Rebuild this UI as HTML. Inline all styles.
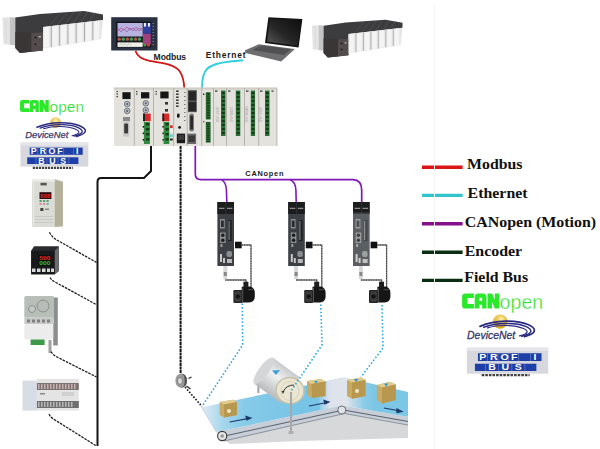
<!DOCTYPE html>
<html><head><meta charset="utf-8">
<style>
html,body{margin:0;padding:0;background:#fff;width:600px;height:449px;overflow:hidden;}
svg{position:absolute;left:0;top:0;display:block;}
text{font-family:"Liberation Sans",sans-serif;}
.serif{font-family:"Liberation Serif",serif;font-weight:bold;}
</style></head><body>
<svg width="600" height="449" viewBox="0 0 600 449">
<defs>
 <linearGradient id="scr" x1="1" y1="0" x2="0" y2="1">
  <stop offset="0" stop-color="#0e0e0e"/><stop offset="0.55" stop-color="#262626"/><stop offset="0.85" stop-color="#4a4a4a"/><stop offset="1" stop-color="#2a2a2a"/>
 </linearGradient>
 <g id="plc">
  <polygon points="-0.6,7.4 6.8,7.2 6.8,34.8 0.4,34" fill="#e4e4e4"/>
  <polygon points="6.8,7.2 12.3,7.4 12.3,35.5 6.8,34.8" fill="#c4c4c4"/>
  <line x1="3" y1="9" x2="3" y2="33" stroke="#d0d0d0" stroke-width="0.6"/>
  <polygon points="12.3,7.6 37,4 81,1 100,4.4 100,10 40,17 40,40.5 17,43 12.3,38" fill="#3c3c3e"/>
  <g stroke="#5a5a5e" stroke-width="0.6">
   <line x1="46" y1="16.3" x2="57" y2="3.5"/><line x1="54" y1="15.3" x2="64" y2="3"/><line x1="62" y1="14.4" x2="71" y2="2.3"/><line x1="70" y1="13.5" x2="78" y2="1.6"/><line x1="78" y1="12.6" x2="85" y2="1.6"/><line x1="86" y1="11.6" x2="92" y2="2.6"/>
  </g>
  <polygon points="28.2,23 40,22.5 40,40.5 28.2,41.8" fill="#544c4c"/>
  <polygon points="12.3,22 28.2,23 28.2,41.8 17,43 12.3,38" fill="#3a3636"/>
  <circle cx="32.5" cy="27.4" r="1.5" fill="#1e1e1e" stroke="#777" stroke-width="0.4"/>
  <circle cx="32.5" cy="34.2" r="1.5" fill="#1e1e1e" stroke="#777" stroke-width="0.4"/>
  <rect x="35.5" y="26" width="2.5" height="1.5" fill="#aaa"/>
  <polygon points="40,17 100,10 98,29 40,38.5" fill="#e6e6e6"/>
  <g stroke="#a8a8a8" stroke-width="0.9">
   <line x1="48.3" y1="16" x2="48.3" y2="37.2"/><line x1="56.6" y1="15" x2="56.6" y2="35.8"/>
   <line x1="64.9" y1="14.1" x2="64.9" y2="34.5"/><line x1="73.2" y1="13.1" x2="73.2" y2="33.1"/>
   <line x1="81.5" y1="12.2" x2="81.5" y2="31.8"/><line x1="89.8" y1="11.2" x2="89.8" y2="30.4"/>
  </g>
  <g fill="#f4f4f4">
   <polygon points="41,17.5 46,17 46,37 41,37.8"/><polygon points="49.5,16.5 54.5,16 54.5,35.6 49.5,36.4"/>
   <polygon points="58,15.5 63,15 63,34.3 58,35"/><polygon points="66.3,14.6 71.3,14 71.3,32.9 66.3,33.7"/>
   <polygon points="74.6,13.6 79.6,13.1 79.6,31.6 74.6,32.4"/><polygon points="82.9,12.7 87.9,12.1 87.9,30.2 82.9,31"/>
   <polygon points="91.2,11.7 96.2,11.1 96.2,28.9 91.2,29.7"/>
  </g>
 </g>
</defs>

<!-- top-left PLC rack -->
<use href="#plc" transform="translate(3,10)"/>
<!-- right PLC rack -->
<use href="#plc" transform="translate(312.5,18.8) scale(0.9)"/>

<!-- HMI -->
<rect x="111.2" y="17.2" width="46.3" height="33.3" fill="#2a3242"/>
<rect x="116" y="21.6" width="35.2" height="25.7" fill="#111418"/>
<rect x="117.5" y="23" width="25.2" height="13.5" fill="#b8b2e0"/>
<polyline points="118,31 121,28 124,30 127,27 130,30 133,28 136,31 139,28 142,30" fill="none" stroke="#c05090" stroke-width="0.8"/>
<polyline points="118,28 121,32 124,29 127,32 130,28 133,31 136,27 139,31 142,28" fill="none" stroke="#8050a0" stroke-width="0.6"/>
<rect x="143" y="23" width="7.8" height="10.8" fill="#3040a0"/>
<rect x="144" y="23" width="1.9" height="3.6" fill="#f4f4f4"/><rect x="148" y="23" width="1.9" height="3.6" fill="#f4f4f4"/>
<rect x="143" y="33.8" width="7.8" height="10.8" fill="#a04080"/>
<rect x="117.5" y="37" width="25.2" height="4.5" fill="#1c2a24"/>
<g><circle cx="119.2" cy="39.2" r="1.6" fill="#c05050"/><circle cx="123.3" cy="39.2" r="1.6" fill="#40a060"/><circle cx="127.4" cy="39.2" r="1.6" fill="#c05050"/><circle cx="131.4" cy="39.2" r="1.6" fill="#40a060"/><circle cx="135.5" cy="39.2" r="1.6" fill="#c05050"/><circle cx="139.5" cy="39.2" r="1.6" fill="#40a060"/></g>
<rect x="117.5" y="42.4" width="25.2" height="4.5" fill="#f0f0e8"/>
<polyline points="119,45.5 121,43.5 123,45.5 125,43.5 127,45.5 129,43.5 131,45.5" fill="none" stroke="#80a080" stroke-width="0.5"/>
<rect x="143.5" y="43.7" width="2.5" height="2.7" fill="#40a050"/><rect x="146.7" y="43.7" width="3.2" height="2.7" fill="#d04030"/>
<g fill="#6a7a80"><rect x="152.5" y="23" width="1.5" height="1"/><rect x="152.5" y="26" width="1.5" height="1"/><rect x="152.5" y="29" width="1.5" height="1"/><rect x="152.5" y="32" width="1.5" height="1"/><rect x="152.5" y="35" width="1.5" height="1"/><rect x="152.5" y="38" width="1.5" height="1"/><rect x="152.5" y="41" width="1.5" height="1"/><rect x="152.5" y="44" width="1.5" height="1"/></g>

<!-- Laptop -->
<polygon points="258.7,44.3 294.9,48.9 281.2,61.4 245.6,53 244.7,50.6" fill="#6e6e70"/>
<polygon points="262,45.5 291,49.3 284,55 252,50" fill="#505052"/>
<polygon points="268.4,17.2 302.4,19 298.6,47.4 265,43" fill="#151515"/>
<polygon points="270,19 300.5,20.6 297.5,45.5 267,41.8" fill="url(#scr)"/>

<!-- Modbus cable -->
<path d="M135.5,51 C137.5,57 142,59 150,61 C163,63 174,64.5 179.5,71 C183,76 184,82 184.3,88" fill="none" stroke="#d01818" stroke-width="1.8"/>
<text x="153.6" y="60.2" font-size="8.6" font-weight="bold" fill="#1a1a1a" textLength="32.5">Modbus</text>
<!-- Ethernet cable -->
<path d="M202,88 C202,80 203,73 207,69 C212,64 220,62.5 230,61.5 L243,60.2" fill="none" stroke="#34cede" stroke-width="1.9"/>
<text x="205.8" y="58.4" font-size="8.4" font-weight="bold" fill="#1a1a1a" textLength="39.8">Ethernet</text>

<!-- Controller -->
<defs>
 <g id="knob"><circle r="2.8" fill="#b8bcc4"/><circle r="2.8" fill="none" stroke="#6a6e78" stroke-width="0.9"/><circle r="1" fill="#555a66"/></g>
 <g id="term">
  <rect x="0" y="0" width="6" height="22" fill="#2f8a40"/>
  <g fill="#1a3a1a"><rect x="2" y="1" width="3.5" height="2.5"/><rect x="2" y="6" width="3.5" height="2.5"/><rect x="2" y="11" width="3.5" height="2.5"/><rect x="2" y="16" width="3.5" height="2.5"/></g>
  <g fill="#111"><rect x="-1.2" y="4" width="1.4" height="1.6"/><rect x="-1.2" y="10.5" width="1.4" height="1.6"/><rect x="-1.2" y="17" width="1.4" height="1.6"/></g>
 </g>
 <g id="strip">
  <rect x="0" y="0" width="4.5" height="45.5" fill="#2c6e34"/>
  <g fill="#163a18"><rect x="0.8" y="1.5" width="3" height="2"/><rect x="0.8" y="5.5" width="3" height="2"/><rect x="0.8" y="9.5" width="3" height="2"/><rect x="0.8" y="13.5" width="3" height="2"/><rect x="0.8" y="17.5" width="3" height="2"/><rect x="0.8" y="21.5" width="3" height="2"/><rect x="0.8" y="25.5" width="3" height="2"/><rect x="0.8" y="29.5" width="3" height="2"/><rect x="0.8" y="33.5" width="3" height="2"/><rect x="0.8" y="37.5" width="3" height="2"/><rect x="0.8" y="41.5" width="3" height="2"/></g>
 </g>
</defs>
<rect x="114" y="88" width="163" height="58" fill="#e4e2dc"/>
<rect x="114" y="87.4" width="163" height="2.2" fill="#cfcdc6"/>
<rect x="276" y="88" width="1.5" height="58" fill="#c8c6c0"/>
<g stroke="#b0aea8" stroke-width="0.9">
 <line x1="134.3" y1="88" x2="134.3" y2="146"/><line x1="153.5" y1="88" x2="153.5" y2="146"/>
 <line x1="173.6" y1="88" x2="173.6" y2="146"/><line x1="187.2" y1="88" x2="187.2" y2="146"/>
 <line x1="201.7" y1="88" x2="201.7" y2="146"/><line x1="213.5" y1="88" x2="213.5" y2="146"/>
 <line x1="226.5" y1="88" x2="226.5" y2="146"/><line x1="244.5" y1="88" x2="244.5" y2="146"/>
 <line x1="258.7" y1="88" x2="258.7" y2="146"/>
</g>
<!-- module 1 -->
<g fill="#444"><rect x="116.5" y="91" width="1.5" height="1.2"/><rect x="116.5" y="93.5" width="1.5" height="1.2"/><rect x="116.5" y="96" width="1.5" height="1.2"/></g>
<rect x="122.4" y="92.2" width="8.2" height="6.9" fill="#161616"/>
<use href="#knob" transform="translate(127.2,104)"/><use href="#knob" transform="translate(127.2,110.9)"/>
<rect x="123" y="117" width="7" height="4.2" fill="#8a8a8a"/>
<rect x="123" y="122" width="6.3" height="14.4" rx="1" fill="#c8c8c8"/>
<rect x="124.2" y="123.5" width="3.9" height="10" rx="1" fill="#3a3a3a"/>
<!-- module 2 -->
<g fill="#444"><rect x="136" y="91" width="1.5" height="1.2"/><rect x="136" y="93.5" width="1.5" height="1.2"/></g>
<rect x="141" y="92.2" width="8.3" height="6.2" fill="#161616"/>
<use href="#knob" transform="translate(145.8,103.3)"/><use href="#knob" transform="translate(145.8,110.2)"/>
<rect x="143" y="113.6" width="7.7" height="7.6" fill="#d42a2a"/>
<rect x="143" y="113.6" width="2" height="7.6" fill="#222"/>
<use href="#term" transform="translate(143.9,122)"/>
<!-- module 3 -->
<g fill="#444"><rect x="155.5" y="91" width="1.5" height="1.2"/><rect x="155.5" y="93.5" width="1.5" height="1.2"/></g>
<rect x="160.3" y="91.5" width="8.3" height="6.9" fill="#161616"/>
<rect x="165" y="102" width="3" height="2.6" fill="#333"/><rect x="165" y="109" width="3" height="2.6" fill="#333"/>
<rect x="162.4" y="113.6" width="6.9" height="7.6" fill="#d42a2a"/>
<rect x="162.4" y="113.6" width="1.8" height="7.6" fill="#222"/>
<use href="#term" transform="translate(163.6,122) scale(0.95,1)"/>
<rect x="170" y="125.3" width="2.7" height="2.7" fill="#d03030"/>
<rect x="170" y="129.5" width="2.7" height="2.7" fill="#f4f4f4"/>
<rect x="170" y="134.3" width="2.7" height="2.7" fill="#60d0d0"/>
<rect x="170" y="138.5" width="2.7" height="2" fill="#222"/>
<!-- module 4 CPU -->
<g fill="#222"><rect x="176.1" y="90.5" width="2.5" height="1.4"/><rect x="176.1" y="93.5" width="2.5" height="1.4"/><rect x="176.1" y="96.5" width="2.5" height="1.4"/><rect x="176.1" y="99.5" width="2.5" height="1.4"/><rect x="176.1" y="102.5" width="2.5" height="1.4"/><rect x="176.1" y="105.5" width="2.5" height="1.4"/></g>
<g fill="#777"><rect x="184" y="92" width="1.5" height="1"/><rect x="184" y="96" width="1.5" height="1"/><rect x="184" y="100" width="1.5" height="1"/><rect x="184" y="104" width="1.5" height="1"/><rect x="184" y="108" width="1.5" height="1"/><rect x="184" y="112" width="1.5" height="1"/><rect x="184" y="116" width="1.5" height="1"/><rect x="184" y="120" width="1.5" height="1"/></g>
<rect x="177" y="113.6" width="2.6" height="4.1" rx="1.2" fill="#1a1a1a"/>
<circle cx="179.6" cy="127.4" r="1.4" fill="#1a1a1a"/>
<rect x="176.8" y="133.6" width="8.3" height="9.6" fill="#1c1c1c"/>
<rect x="178" y="135" width="6" height="5" fill="#3a3a3a"/>
<!-- module 5 -->
<rect x="187.9" y="90.1" width="8.9" height="22.1" fill="#5a5a5a"/>
<rect x="188.6" y="91.3" width="7.5" height="9.2" fill="#262626"/>
<rect x="188.6" y="102" width="7.5" height="9.2" fill="#262626"/>
<rect x="189.2" y="113.6" width="4.8" height="17.9" rx="2" fill="#7a7a7a"/>
<rect x="190.2" y="115.6" width="2.8" height="13.9" rx="1.2" fill="#2a2a2a"/>
<rect x="187.2" y="133.6" width="8.9" height="10.4" fill="#6a6a6a"/>
<rect x="188.4" y="135.5" width="6.5" height="6.5" fill="#3a3a3a"/>
<rect x="203" y="93.6" width="1.4" height="1.4" fill="#222"/>
<rect x="203" y="121" width="1.4" height="1.4" fill="#666"/>
<use href="#strip" transform="translate(205.8,92.2) scale(1.07,0.6)"/>
<use href="#strip" transform="translate(205.8,121.9) scale(1.07,0.455)"/>
<!-- IO modules green strips -->
<use href="#strip" transform="translate(221,90.5)"/>
<use href="#strip" transform="translate(235.8,90.5)"/>
<use href="#strip" transform="translate(250.8,90.5) scale(0.95,1)"/>
<use href="#strip" transform="translate(265,90.5)"/>
<g fill="#9a9a9a" font-size="3.2"><text transform="translate(218.5,122) rotate(-90)">DVP-16SP</text><text transform="translate(232.5,122) rotate(-90)">DVP-08ST</text><text transform="translate(247.5,122) rotate(-90)">DVP-06AD</text><text transform="translate(261.5,122) rotate(-90)">DVP-16SP</text></g>
<g fill="#333"><rect x="215" y="90.5" width="2.5" height="1.2"/><rect x="228" y="90.5" width="2.5" height="1.2"/><rect x="246" y="90.5" width="2.5" height="1.2"/><rect x="260" y="90.5" width="2.5" height="1.2"/><rect x="271.5" y="90.5" width="2" height="1.2"/></g>

<!-- Left logos -->
<defs>
 <radialGradient id="sun" cx="0.5" cy="0.35" r="0.6">
  <stop offset="0" stop-color="#fff4b0"/><stop offset="1" stop-color="#e0a820"/>
 </radialGradient>
 <g id="can" fill="#2ae82a" fill-rule="evenodd">
  <path d="M3.2,0 H11.8 V4.6 H5.3 V10.5 H11.8 V15.1 H3.2 Q0,15.1 0,11.9 V3.2 Q0,0 3.2,0 Z"/>
  <path d="M12.6,15.1 V3.5 Q12.6,0 16.1,0 H20.9 Q24.4,0 24.4,3.5 V15.1 H20 V11.3 H17 V15.1 Z M17,7.4 H20 V4.2 H17 Z"/>
  <path d="M25.4,15.1 V0 H29.9 L32.8,6.6 V0 H37.2 V15.1 H32.7 L29.9,8.6 V15.1 Z"/>
 </g>
 <g id="dnet">
  <circle cx="0" cy="0" r="5.3" fill="url(#sun)"/>
  <g fill="none" stroke="#2a2a82" stroke-linecap="round">
   <path d="M-18.7,4.8 C-5,-1.5 15,-0.8 24,3.2 C31.5,6.5 33,10.5 21,14" stroke-width="1.5"/>
   <path d="M-15.5,5.6 C-4,1.2 14,1.2 22,4.8 C28,7.5 29.5,10.8 18.5,13.6" stroke-width="1.3"/>
   <path d="M-12,6.2 C-3,3.2 12,3.3 19.5,6.5 C24.5,8.6 25.5,11.2 16.5,13.3" stroke-width="1.1"/>
  </g>
  <text x="-30.3" y="15.8" font-size="9.5" font-style="italic" fill="#343468" stroke="#343468" stroke-width="0.25" textLength="43" lengthAdjust="spacingAndGlyphs">DeviceNet</text>
 </g>
 <g id="pbus">
  <rect x="0" y="0" width="67.8" height="24" fill="#d6d8de"/>
  <rect x="0" y="0" width="67.8" height="3" fill="#e4e6ea"/>
  <rect x="9.2" y="5.1" width="53" height="7.2" fill="#1f3fa8"/>
  <rect x="6.7" y="14.8" width="51.2" height="6.7" fill="#1f3fa8"/>
  <g stroke="#8090c8" stroke-width="0.5">
   <line x1="17.2" y1="5.1" x2="17.2" y2="12.3"/><line x1="25.9" y1="5.1" x2="25.9" y2="12.3"/><line x1="34.5" y1="5.1" x2="34.5" y2="12.3"/><line x1="43.1" y1="5.1" x2="43.1" y2="12.3"/><line x1="53" y1="5.1" x2="53" y2="12.3"/>
   <line x1="15.5" y1="14.8" x2="15.5" y2="21.5"/><line x1="26.4" y1="14.8" x2="26.4" y2="21.5"/><line x1="37.4" y1="14.8" x2="37.4" y2="21.5"/><line x1="48.4" y1="14.8" x2="48.4" y2="21.5"/>
  </g>
  <g font-size="8.8" font-weight="bold" fill="#fff" text-anchor="middle">
   <text x="13.3" y="11.6">P</text><text x="22.5" y="11.6">R</text><text x="31.4" y="11.6">O</text><text x="39.4" y="11.6">F</text><text x="56.7" y="11.6">I</text>
   <text x="20.9" y="21">B</text><text x="32" y="21">U</text><text x="42.8" y="21">S</text>
  </g>
  <line x1="12.3" y1="25.3" x2="52.3" y2="25.3" stroke="#222" stroke-width="2.2" stroke-dasharray="2.2,0.8" opacity="0.85"/>
 </g>
</defs>
<use href="#can" transform="translate(20,100) scale(0.773,0.788)"/>
<text x="49.6" y="111.9" font-size="14.4" fill="#2ee02e" stroke="#fff" stroke-width="0.2" textLength="34.4" lengthAdjust="spacingAndGlyphs">open</text>
<use href="#dnet" transform="translate(55.6,122.5)"/>
<use href="#pbus" transform="translate(20.5,142.5)"/>

<!-- Left devices -->
<!-- VFD -->
<polygon points="32,180 54.8,179 62.9,181 62.9,227 54.8,227 32,227" fill="#dcdcd6"/>
<polygon points="54.8,179.5 62.9,182 62.9,226 54.8,227" fill="#b4b09a"/>
<rect x="32" y="179" width="22.8" height="2.5" fill="#ececea"/>
<rect x="33" y="182" width="1" height="44" fill="#e8e8e4"/>
<rect x="40.5" y="182.8" width="6.2" height="2.6" fill="#555"/>
<rect x="39.5" y="192.2" width="11.9" height="6.8" fill="#2a0a0a"/>
<text x="40.3" y="197.8" font-size="5.5" font-weight="bold" fill="#e02424" textLength="10.2" lengthAdjust="spacingAndGlyphs">888</text>
<g fill="#5aa070"><rect x="39.5" y="200" width="2.2" height="2"/><rect x="43" y="200" width="2.2" height="2"/><rect x="46.5" y="200" width="2.2" height="2"/></g>
<g fill="#e08090"><rect x="39.5" y="203" width="2.2" height="1.8"/><rect x="43" y="203" width="2.2" height="1.8"/></g>
<rect x="46.5" y="203" width="2.2" height="1.8" fill="#60b0b0"/>
<rect x="40.3" y="208" width="3.1" height="3" fill="#444"/>
<rect x="45" y="208.5" width="4" height="1.5" fill="#888"/>
<g fill="#c4c4c0"><rect x="35" y="216" width="18" height="0.8"/><rect x="35" y="219" width="18" height="0.8"/><rect x="35" y="222" width="18" height="0.8"/></g>
<!-- temp controller -->
<polygon points="31.2,250.7 34,246.2 58.9,246.2 58.9,271 54.8,274.3 31.2,274.3" fill="#2a2b2e"/>
<rect x="31.2" y="250.7" width="23.6" height="23.6" fill="#18191b"/>
<polygon points="54.8,250.7 58.9,246.5 58.9,271 54.8,274.3" fill="#6a6c70"/>
<rect x="38.5" y="255" width="12.5" height="11" fill="#101010"/><text x="39.3" y="259.5" font-size="5" font-weight="bold" fill="#e03030" textLength="11" lengthAdjust="spacingAndGlyphs">500</text>
<text x="39.3" y="265.3" font-size="5" font-weight="bold" fill="#30c040" textLength="11" lengthAdjust="spacingAndGlyphs">000</text>
<g fill="#d8d8d8"><rect x="32" y="268.5" width="3.5" height="3.5"/><rect x="37" y="268.5" width="3.5" height="3.5"/><rect x="42" y="268.5" width="3.5" height="3.5"/><rect x="47" y="268.5" width="3" height="3.5"/><rect x="51" y="268.5" width="3" height="3.5"/></g>
<!-- power supply -->
<rect x="53.2" y="297.5" width="4.6" height="48" fill="#8c8e90"/>
<rect x="24.3" y="296" width="29.7" height="21.7" rx="1.5" fill="#b8beb8"/>
<circle cx="32" cy="309" r="3.5" fill="#c4c8c4" stroke="#808480" stroke-width="0.8"/>
<circle cx="43" cy="306" r="6" fill="#b8bcb8" stroke="#808480" stroke-width="0.8"/>
<rect x="24.3" y="317.7" width="29.7" height="6.3" fill="#c8cac8"/>
<g fill="#808080"><rect x="27" y="319.5" width="3" height="3"/><rect x="32" y="319.5" width="3" height="3"/><rect x="37" y="319.5" width="3" height="3"/><rect x="42" y="319.5" width="3" height="3"/><rect x="47" y="319.5" width="3" height="3"/></g>
<rect x="24.3" y="324" width="28.9" height="15.5" rx="2" fill="#ececec"/>
<rect x="30.6" y="339.5" width="14" height="5.5" fill="#3c9a4a"/>
<rect x="48.5" y="340" width="3" height="13" fill="#a0a0a0"/>
<!-- small PLC -->
<rect x="22.5" y="380.6" width="14.4" height="30" fill="#d8dce4"/>
<rect x="36.9" y="378.8" width="41.9" height="31.8" fill="#e4e4e4"/>
<rect x="36.9" y="383" width="41.9" height="7" fill="#7c7272"/>
<g fill="#c8b0b0"><rect x="38" y="384" width="1.5" height="5"/><rect x="41" y="384" width="1.5" height="5"/><rect x="44" y="384" width="1.5" height="5"/><rect x="47" y="384" width="1.5" height="5"/><rect x="50" y="384" width="1.5" height="5"/><rect x="53" y="384" width="1.5" height="5"/><rect x="56" y="384" width="1.5" height="5"/><rect x="59" y="384" width="1.5" height="5"/><rect x="62" y="384" width="1.5" height="5"/><rect x="65" y="384" width="1.5" height="5"/><rect x="68" y="384" width="1.5" height="5"/><rect x="71" y="384" width="1.5" height="5"/><rect x="74" y="384" width="1.5" height="5"/></g>
<rect x="36.9" y="401" width="41.9" height="7" fill="#6e6e6e"/>
<g fill="#b8b8b8"><rect x="38" y="402" width="1.5" height="5"/><rect x="41" y="402" width="1.5" height="5"/><rect x="44" y="402" width="1.5" height="5"/><rect x="47" y="402" width="1.5" height="5"/><rect x="50" y="402" width="1.5" height="5"/><rect x="53" y="402" width="1.5" height="5"/><rect x="56" y="402" width="1.5" height="5"/><rect x="59" y="402" width="1.5" height="5"/><rect x="62" y="402" width="1.5" height="5"/><rect x="65" y="402" width="1.5" height="5"/><rect x="68" y="402" width="1.5" height="5"/><rect x="71" y="402" width="1.5" height="5"/></g>
<rect x="40" y="393" width="5" height="1.5" fill="#888"/>
<rect x="62" y="392" width="12" height="4" fill="#d0d0d0"/>

<!-- Field bus line -->
<path d="M151,146 L151,171 L144,178 L101,178 Q97.5,178 97.5,182 L97.5,446" fill="none" stroke="#141414" stroke-width="2"/>
<g fill="none" stroke="#1a1a1a" stroke-width="1.25" stroke-dasharray="2.6,1">
 <path d="M49.4,232.3 Q52,237 56,239.5 L96.5,262.4"/>
 <path d="M50,277.5 Q52,281 56,282.5 L96.5,304.7"/>
 <path d="M51,351.6 Q53,355 57,357 L96.5,377"/>
 <path d="M49,414 Q51,418 55,420 L96.5,446"/>
</g>

<!-- Encoder line -->
<line x1="180.6" y1="146" x2="180.6" y2="373.6" stroke="#161616" stroke-width="2" stroke-dasharray="3,0.5"/>
<ellipse cx="181.2" cy="380.7" rx="5.8" ry="7.2" fill="#9a9a9a"/>
<path d="M181.2,373.5 A5.8,7.2 0 0 1 181.2,387.9 A3.5,7.2 0 0 0 181.2,373.5 Z" fill="#505050"/>
<ellipse cx="180" cy="381" rx="2.6" ry="3.4" fill="#d8d8d8" stroke="#707070" stroke-width="0.8"/>
<line x1="188.5" y1="378.5" x2="191.5" y2="377" stroke="#222" stroke-width="1.2"/>
<line x1="186.5" y1="386" x2="190.5" y2="389" stroke="#222" stroke-width="1.2"/>
<line x1="185" y1="387" x2="202" y2="406.5" stroke="#111" stroke-width="1.6" stroke-dasharray="1.6,1.6"/>

<!-- CANopen purple -->
<g fill="none" stroke="#8018b8" stroke-width="1.7">
<path d="M195.3,146 L195.3,174 Q195.3,179.6 201,179.6 L353,179.6 Q361.7,180 361.7,190 L361.7,202"/>
<path d="M221.5,179.6 Q226,182 226.4,190 L226.8,202" stroke-width="1.6"/>
<path d="M290,179.6 Q295.5,182 295.9,190 L296.2,202" stroke-width="1.6"/>
</g>
<text x="245.3" y="175.6" font-size="7.4" font-weight="bold" fill="#1a1a1a" textLength="38.2">CANopen</text>

<!-- drives -->
<g id="drive">
 <rect x="217.4" y="202" width="16.6" height="64" fill="#3c4044"/>
 <rect x="217.4" y="202" width="16.6" height="12" fill="#1a1c1e"/>
 <rect x="219" y="207.8" width="5.5" height="1" fill="#a8a8a8"/><rect x="227" y="207.8" width="5.5" height="1" fill="#a8a8a8"/>
 <rect x="225.6" y="202" width="0.6" height="12" fill="#3a3c3e"/>
 <rect x="220" y="219" width="4.8" height="9.5" fill="#8a8e90"/><rect x="221" y="220.5" width="2.8" height="6.5" fill="#2a2c2e"/>
 <rect x="228" y="220" width="3.8" height="21" fill="#202326"/>
 <rect x="228.6" y="221" width="1" height="19" fill="#8a8e90"/>
 <rect x="220" y="232.5" width="5.6" height="10.5" fill="#8a8e90"/><circle cx="222.8" cy="235.2" r="1.7" fill="#1a1a1a"/><circle cx="222.8" cy="240.2" r="1.7" fill="#1a1a1a"/>
 <rect x="220.5" y="244" width="2" height="3" fill="#9a9a9a"/>
 <rect x="226.5" y="251" width="5.5" height="6" rx="2" fill="#8a8e90"/>
 <rect x="220" y="254" width="2" height="8" fill="#c8c8c8"/>
 <rect x="223" y="258" width="2" height="5" fill="#c8c8c8"/>
 <rect x="227" y="259" width="5" height="4" fill="#b8b8b8"/>
 <rect x="223.3" y="266" width="4" height="13" fill="#d8d8d8"/>
 <rect x="223.8" y="272" width="3" height="4" fill="#888"/>
 <rect x="235" y="241.7" width="6.7" height="6.6" fill="#111"/>
 <g fill="none" stroke="#7a7a7a" stroke-width="1.3">
  <path d="M241.7,245 L251,245 L251,287"/>
  <path d="M225.3,280 L246,280 L246,282"/>
 </g>
 <g fill="none" stroke="#111" stroke-width="0.8" stroke-dasharray="1,1.5">
  <path d="M241.7,245 L251,245 L251,287"/>
  <path d="M225.3,280 L246,280 L246,282"/>
 </g>
 <path d="M241.7,286.7 L250,286.5 Q254.8,287.5 254.8,293 L254.8,297 Q254.5,302.3 249,302.5 L241.7,302.5 Z" fill="#161616"/>
 <rect x="243.4" y="281.7" width="5" height="5.6" fill="#1e1e1e"/>
 <rect x="233.4" y="290" width="9" height="13" rx="1.2" fill="#222"/>
 <rect x="234.6" y="291.3" width="6.6" height="10.4" rx="1" fill="#3c3c3c"/>
 <circle cx="237.9" cy="296.5" r="2.2" fill="#141414"/>
 <rect x="242.2" y="288" width="1" height="14" fill="#555"/>
 <rect x="248" y="289" width="5" height="1.2" fill="#444"/>
</g>
<use href="#drive" transform="translate(70.8,0)"/>
<use href="#drive" transform="translate(135.6,0)"/>
<rect x="353" y="212.5" width="16.6" height="53.5" fill="#fff" opacity="0.16"/>

<!-- Conveyor -->
<defs>
 <linearGradient id="beltL" x1="201" y1="0" x2="300" y2="0" gradientUnits="userSpaceOnUse">
  <stop offset="0" stop-color="#e0edf4"/><stop offset="0.22" stop-color="#a6d6ec"/><stop offset="0.45" stop-color="#86cae8"/><stop offset="1" stop-color="#78c4e6"/>
 </linearGradient>
 <linearGradient id="beltR" x1="318" y1="0" x2="375" y2="0" gradientUnits="userSpaceOnUse">
  <stop offset="0" stop-color="#84c8e6"/><stop offset="0.2" stop-color="#dde2ec"/><stop offset="0.5" stop-color="#e0e4ec"/><stop offset="0.8" stop-color="#8ccce8"/><stop offset="1" stop-color="#7cc6e6"/>
 </linearGradient>
 <linearGradient id="drumG" x1="0" y1="0" x2="0" y2="1">
  <stop offset="0" stop-color="#c8cacc"/><stop offset="0.4" stop-color="#f0f0f0"/><stop offset="1" stop-color="#b8babc"/>
 </linearGradient>
</defs>
<polygon points="224,440 344.6,413 408,425 408,438 300,441 230,444" fill="#d6d8da"/>
<polygon points="216.4,432 342.7,405.5 408,416.8 408,425 344.6,413.5 224,441" fill="#c8ced8"/>
<polyline points="220,437 343.5,410 408,421.5" fill="none" stroke="#59616c" stroke-width="1"/>
<polyline points="224,441 344.6,413.5 408,425" fill="none" stroke="#7a828c" stroke-width="0.8"/>
<polygon points="201.6,407.2 344.6,377.5 342.7,405.5 216.4,432" fill="url(#beltL)"/>
<polygon points="318,382.9 344.6,377.5 408,392 408,416.8 342.7,405.5 320,410.2" fill="url(#beltR)"/>
<line x1="201.6" y1="407.2" x2="216.4" y2="432" stroke="#c0ccd8" stroke-width="0.8"/>
<circle cx="222.2" cy="436" r="4.6" fill="#e4e4e4" stroke="#3a3a3a" stroke-width="1.1"/>
<circle cx="222.2" cy="436" r="1.8" fill="#999"/>
<circle cx="341.8" cy="410" r="4" fill="#e0e4ea" stroke="#555" stroke-width="0.8"/>
<!-- arrows -->
<g stroke="#1a3a6a" stroke-width="1.2" fill="#1a3a6a">
 <line x1="229.6" y1="422" x2="249" y2="418.4"/><polygon points="251,418 246,416.5 247,420"/>
 <line x1="309" y1="406" x2="327" y2="402.5"/><polygon points="329,402 324,400.5 325,404"/>
 <line x1="384" y1="408" x2="400" y2="411"/><polygon points="402,411.5 397,409 397,412.5"/>
</g>
<!-- drum -->
<line x1="258.4" y1="376" x2="258.4" y2="393" stroke="#a0a0a0" stroke-width="2"/>
<g transform="rotate(36 277 380.5)">
 <rect x="260.5" y="364.5" width="33" height="32" fill="url(#drumG)"/>
 <ellipse cx="260.5" cy="380.5" rx="5" ry="16" fill="#d4d6d8"/>
</g>
<ellipse cx="290" cy="390.5" rx="14" ry="13" transform="rotate(15 290 390.5)" fill="#ebe6d2" stroke="#c8c2aa" stroke-width="1.5"/>
<ellipse cx="290" cy="391" rx="9" ry="9.5" fill="none" stroke="#d8d2bc" stroke-width="1"/>
<path d="M294,385 Q286,385 283,392" fill="none" stroke="#333" stroke-width="1"/>
<polygon points="281.5,391 284.5,391 283,394" fill="#333"/>
<polygon points="272,370.5 280,370 276,375" fill="#3aa0d8"/>
<line x1="291" y1="392" x2="291" y2="433" stroke="#a8a8a8" stroke-width="2"/>
<rect x="288.5" y="431" width="5" height="3" fill="#b0b0b0"/>
<!-- boxes -->
<g id="box">
 <polygon points="219.7,402 233,399.7 237,402 237,415 224,417.6 219.7,415" fill="#c8aa64"/>
 <polygon points="219.7,402 233,399.7 237,402 224,404.5" fill="#e0cc90"/>
 <polygon points="224,404.5 237,402 237,415 224,417.6" fill="#b8984e"/>
 <circle cx="229" cy="411" r="2" fill="#f0e8c8"/>
</g>
<g>
 <polygon points="307,381 321,379 325.5,381.5 325.5,396 312,398 307,395" fill="#c8aa64"/>
 <polygon points="307,381 321,379 325.5,381.5 311.5,384" fill="#e0cc90"/>
 <polygon points="311.5,384 325.5,381.5 325.5,396 312,398" fill="#b8984e"/>
 <polygon points="314,381 318,381 316,383.5" fill="#2a98d8"/>
</g>
<g>
 <polygon points="347,380 361,377.6 365.5,380 365.5,396 352,398.8 347,396" fill="#c8aa64"/>
 <polygon points="347,380 361,377.6 365.5,380 352,382.5" fill="#e0cc90"/>
 <polygon points="352,382.5 365.5,380 365.5,396 352,398.8" fill="#b8984e"/>
 <polygon points="354,379 358.5,379 356,382" fill="#2a98d8"/>
 <circle cx="357" cy="391" r="2" fill="#f0e8c8"/>
</g>
<g>
 <polygon points="376.8,385 390,381.8 395.8,384.5 395.8,400 382,403.6 376.8,400" fill="#c8aa64"/>
 <polygon points="376.8,385 390,381.8 395.8,384.5 382,387.5" fill="#e0cc90"/>
 <polygon points="382,387.5 395.8,384.5 395.8,400 382,403.6" fill="#b8984e"/>
 <polygon points="384,383.5 388.5,383.5 386,386.5" fill="#2a98d8"/>
</g>
<!-- dotted blue -->
<g fill="none" stroke="#2aaade" stroke-width="1.6" stroke-dasharray="1.6,2">
 <path d="M242.3,303.5 L242.7,345 L203,405"/>
 <path d="M320.8,304.5 L322,345 L291,391"/>
 <path d="M382,305 L383,348 L361,377"/>
</g>

<!-- Legend -->
<g stroke-width="3.4">
 <line x1="422" y1="167.3" x2="462.6" y2="167.3" stroke="#dd1515"/>
 <line x1="422" y1="195.4" x2="462.6" y2="195.4" stroke="#30c4cc"/>
 <line x1="422" y1="223.8" x2="462.6" y2="223.8" stroke="#84108c"/>
 <line x1="422" y1="252.3" x2="462.6" y2="252.3" stroke="#0a2e12"/>
 <line x1="422" y1="280.4" x2="462.6" y2="280.4" stroke="#0a2e12"/>
</g>
<g class="serif" font-size="15.3" fill="#111">
 <text x="467" y="169" class="serif" textLength="55.5" lengthAdjust="spacingAndGlyphs">Modbus</text>
 <text x="467.6" y="197.6" class="serif" textLength="60" lengthAdjust="spacingAndGlyphs">Ethernet</text>
 <text x="464.7" y="226.5" class="serif" textLength="131.5" lengthAdjust="spacingAndGlyphs">CANopen (Motion)</text>
 <text x="464.7" y="255.7" class="serif" textLength="57.5" lengthAdjust="spacingAndGlyphs">Encoder</text>
 <text x="464.3" y="282" class="serif" textLength="63.8" lengthAdjust="spacingAndGlyphs">Field Bus</text>
</g>

<!-- right logos -->
<use href="#can" transform="translate(462.1,293.5)"/>
<text x="499.6" y="308.6" font-size="19.8" fill="#30e030" stroke="#fff" stroke-width="0.35" textLength="43.6" lengthAdjust="spacingAndGlyphs">open</text>
<circle cx="500.1" cy="321.6" r="7.2" fill="url(#sun)"/>
<use href="#dnet" transform="translate(501,321) scale(1.12)"/>
<use href="#pbus" transform="translate(466.9,347.7) scale(1.2,1.083)"/>
<line x1="434.5" y1="3.5" x2="434.5" y2="449" stroke="#f5f5f5" stroke-width="1"/>
</svg>

</body></html>
